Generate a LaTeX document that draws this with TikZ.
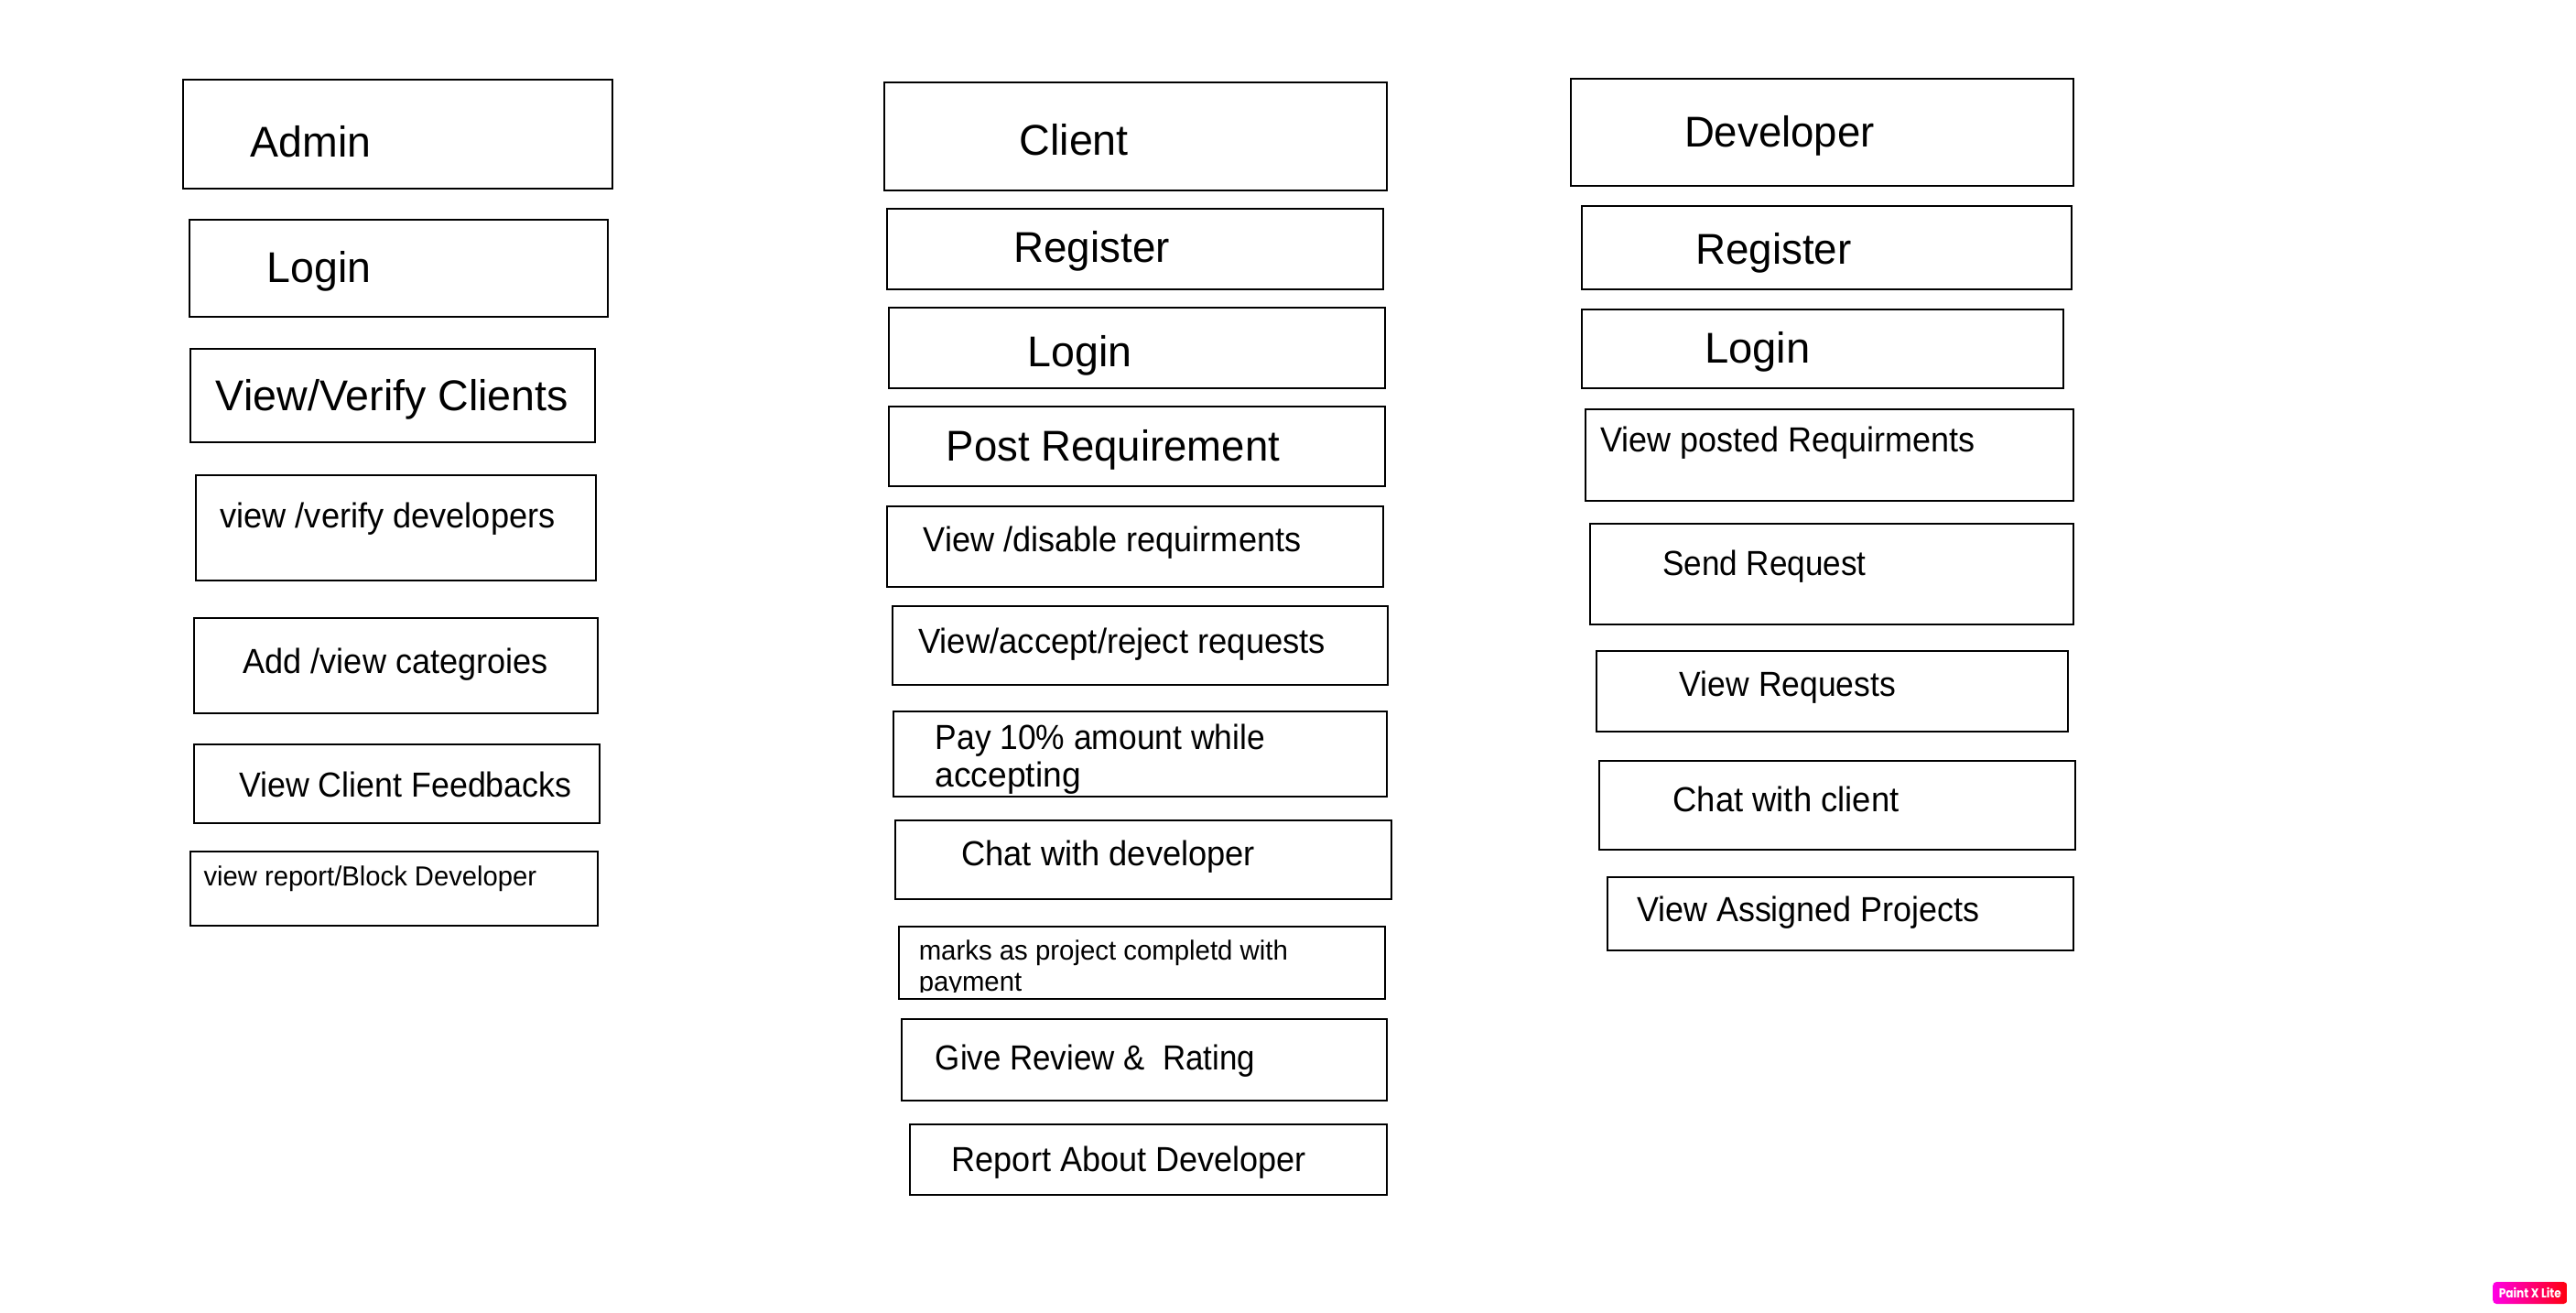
\documentclass[tikz,border=0pt]{standalone}
\usepackage{fontspec}
\usepackage{graphicx}
\setmainfont{Liberation Sans}
\newfontfamily\badgefont{Poppins}
\usetikzlibrary{shadings}
\newcommand{\myu}{1.79464}
\tikzset{
  x=1.79464pt, y=-1.79464pt,
  boxshape/.style={draw=black, fill=none, line width=2pt, rectangle, inner sep=0pt, outer sep=0pt, anchor=north west},
  lbl/.style={anchor=base west, inner sep=0pt, outer sep=0pt, text=black},
}
% name, x1, y1, x2, y2
\newcommand{\mybox}[5]{%
  \pgfmathsetlengthmacro{\myw}{(#4-#2)*\myu pt}%
  \pgfmathsetlengthmacro{\myh}{(#5-#3)*\myu pt}%
  \node[boxshape, minimum width=\myw, minimum height=\myh] (#1) at (#2,#3) {};%
}
% name, x1, x2, baseline, size, text
\newcommand{\mytext}[6]{%
  \pgfmathsetlengthmacro{\myw}{(#3-#2)*\myu pt}%
  \node[lbl] (#1) at (#2,#4) {\resizebox{\myw}{\height}{\fontsize{#5}{#5}\selectfont #6}};%
}
\begin{document}
\begin{tikzpicture}
\useasboundingbox (0,0) rectangle (1568,798.5);
\fill[white] (0,0) rectangle (1568,798.5);
% Admin column
\mybox{a1}{111.3}{48.3}{372.8}{114.8}   \mytext{a1t}{152.6}{226}{95.5}{47}{Admin}
\mybox{a2}{115.3}{134}{370}{193}        \mytext{a2t}{162.6}{226}{172}{47}{Login}
\mybox{a3}{116}{212.4}{362}{269}        \mytext{a3t}{131.5}{346}{250}{47}{View/Verify Clients}
\mybox{a4}{119}{289.3}{363}{353}        \mytext{a4t}{134}{338}{321}{38}{view /verify developers}
\mybox{a5}{118}{376}{364}{434}          \mytext{a5t}{148}{333.6}{410}{38}{Add /view categroies}
\mybox{a6}{118}{453}{365}{501}          \mytext{a6t}{145.5}{348}{485}{38}{View Client Feedbacks}
\mybox{a7}{116}{518}{364}{563.3}        \mytext{a7t}{124}{326.6}{539}{30}{view report/Block Developer}
% Client column
\mybox{c1}{538}{50.3}{844}{116}         \mytext{c1t}{620.5}{687}{94.5}{47}{Client}
\mybox{c2}{540}{127.3}{842}{176}        \mytext{c2t}{617}{712}{159.5}{47}{Register}
\mybox{c3}{541}{187.3}{843}{236}        \mytext{c3t}{625.5}{689}{223}{47}{Login}
\mybox{c4}{541}{247.3}{843}{296}        \mytext{c4t}{576}{779}{280.5}{47}{Post Requirement}
\mybox{c5}{540}{308}{842}{357}          \mytext{c5t}{562}{792}{335.5}{38}{View /disable requirments}
\mybox{c6}{543}{369}{845}{417}          \mytext{c6t}{559}{807}{397.5}{38}{View/accept/reject requests}
\mybox{c7}{544}{433}{844}{485}          \mytext{c7t}{569.3}{770}{456}{38}{Pay 10\% amount while}
                                        \mytext{c7u}{569.3}{658}{479}{38}{accepting}
\mybox{c8}{545}{499}{847}{547}          \mytext{c8t}{585.3}{764}{527}{38}{Chat with developer}
\mybox{c9}{547}{564}{843}{608}          \mytext{c9t}{559.3}{784}{584}{30}{marks as project completd with}
\begin{scope}
  \clip (547,590) rectangle (843,603.8);
  \mytext{c9u}{559.3}{622}{603}{30}{payment}
\end{scope}
\mybox{c10}{549}{620}{844}{670}         \mytext{c10t}{569.4}{764}{651}{38}{Give Review \&~~Rating}
\mybox{c11}{554}{684}{844}{727}         \mytext{c11t}{579.4}{795}{713}{38}{Report About Developer}
% Developer column
\mybox{d1}{956}{48}{1262}{113}          \mytext{d1t}{1025.3}{1141}{89.5}{47}{Developer}
\mybox{d2}{963}{125.4}{1261}{176}       \mytext{d2t}{1032}{1127}{160.5}{47}{Register}
\mybox{d3}{963}{188.3}{1256}{236}       \mytext{d3t}{1037.6}{1102}{221}{47}{Login}
\mybox{d4}{965}{249}{1262}{305}         \mytext{d4t}{974}{1202}{275}{38}{View posted Requirments}
\mybox{d5}{968}{319}{1262}{380}         \mytext{d5t}{1012}{1136}{350}{38}{Send Request}
\mybox{d6}{972}{396}{1259}{445.4}       \mytext{d6t}{1022.4}{1154}{424}{38}{View Requests}
\mybox{d7}{973.3}{463}{1263}{517}       \mytext{d7t}{1018.3}{1156}{494}{38}{Chat with client}
\mybox{d8}{978.3}{534}{1262}{578.3}     \mytext{d8t}{996.3}{1205}{561}{38}{View Assigned Projects}
% Badge
\shade[left color=magenta!90!red, right color=red!95!magenta, rounded corners=4pt] (1517.4,780.1) rectangle (1562.6,793.5);
\node[anchor=center, inner sep=0pt, text=white] (badge) at (1540,787) {\resizebox{68pt}{\height}{\fontsize{14}{14}\selectfont\badgefont\bfseries Paint X Lite}};
\end{tikzpicture}
\end{document}
